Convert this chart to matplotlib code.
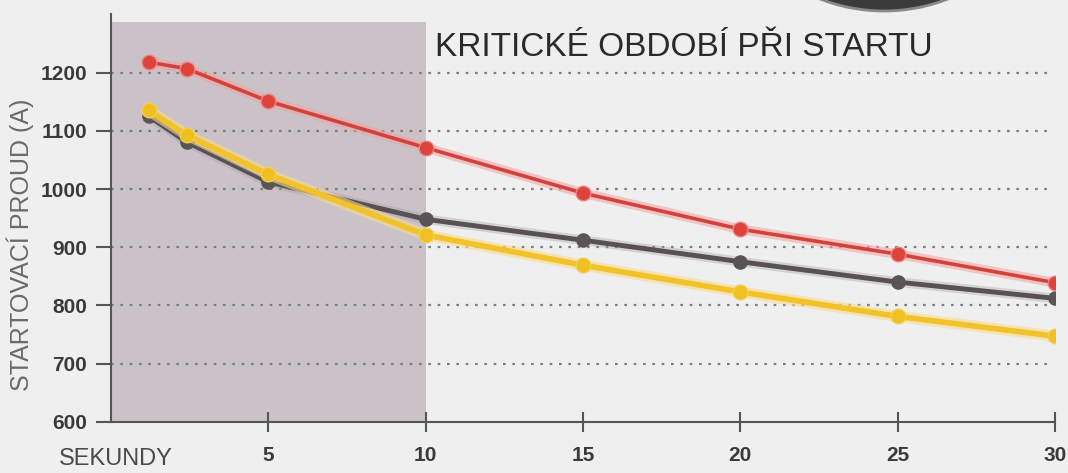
import matplotlib
matplotlib.use("Agg")
import matplotlib.pyplot as plt
from matplotlib.patches import Ellipse, Rectangle

# ---- data ----
seconds = [1.2, 2.4, 5, 10, 15, 20, 25, 30]
red_vals = [1218, 1207, 1151, 1071, 993, 931, 888, 839]
gray_vals = [1125, 1081, 1012, 948, 912, 875, 840, 812]
yellow_vals = [1135, 1093, 1025, 921, 869, 823, 781, 747]
x_ticks = [5, 10, 15, 20, 25, 30]
y_ticks = [600, 700, 800, 900, 1000, 1100, 1200]
grid_levels = [700, 800, 900, 1000, 1100, 1200]
critical_end = 10
title = "KRITICKÉ OBDOBÍ PŘI STARTU"
ylabel = "STARTOVACÍ PROUD (A)"
xlabel = "SEKUNDY"

W, H = 1068, 473
BG = "#efefef"
fig = plt.figure(figsize=(W / 100, H / 100), dpi=100, facecolor=BG)
plt.rcParams['font.family'] = ['Liberation Sans', 'DejaVu Sans']

ax_left, ax_right = 111, 1055
ax_bottom, ax_top = 421.7, 14.5
ax = fig.add_axes([ax_left / W, 1 - ax_bottom / H, (ax_right - ax_left) / W, (ax_bottom - ax_top) / H])
ax.set_facecolor(BG)
ax.set_xlim(0, 30)
ax.set_ylim(600, 1300)

# shaded critical period
ax.add_patch(Rectangle((0, 600), critical_end, 687, facecolor="#cbc2c7", edgecolor="none", zorder=0))

# dotted grid
for g in grid_levels:
    ax.plot([0, 29.85], [g, g], color="#7e7e7e", lw=1.6, dashes=(1.2, 3.0), zorder=1)

# series
ax.plot(seconds, gray_vals, color="#a09a9c", lw=7, alpha=0.35, zorder=2, solid_capstyle="round")
ax.plot(seconds, gray_vals, color="#575155", lw=3.5, marker="o", ms=9.5, mfc="#5a5457", mec="#5a5457", zorder=3)
ax.plot(seconds, yellow_vals, color="#f8dc86", lw=8, alpha=0.6, zorder=4, solid_capstyle="round")
ax.plot(seconds, yellow_vals, color="#f1c22a", lw=4, marker="o", ms=10.5, mfc="#f0c020", mec="#f3cf50", zorder=5)
ax.plot(seconds, red_vals, color="#f3a0a0", lw=7, alpha=0.55, zorder=6, solid_capstyle="round")
ax.plot(seconds, red_vals, color="#d2423b", lw=2.6, marker="o", ms=10.5, mfc="#dd433a", mec="#ee8080", zorder=7)

# spines
for s in ["top", "right"]:
    ax.spines[s].set_visible(False)
for s in ["left", "bottom"]:
    ax.spines[s].set_color("#555555")
    ax.spines[s].set_linewidth(1.5)

ax.set_yticks(y_ticks)
ax.set_yticklabels([str(v) for v in y_ticks])
ax.tick_params(axis="y", direction="out", length=10.8, width=1.5, color="#555555",
               pad=6.5, labelsize=15, labelcolor="#3a3a3a")
ax.set_xticks(x_ticks)
ax.set_xticklabels([str(v) for v in x_ticks])
ax.tick_params(axis="x", direction="inout", length=14.4, width=1.5, color="#555555",
               pad=10, labelsize=15, labelcolor="#3a3a3a")
for lab in ax.get_xticklabels() + ax.get_yticklabels():
    lab.set_fontweight("bold")

# texts
fig.text(435 / W, 1 - 56 / H, title, fontsize=24, color="#2a2a2a", va="baseline", ha="left")
fig.text(20 / W, 1 - 245 / H, ylabel, fontsize=18, color="#6a6a6a", rotation=90, va="center", ha="center")
fig.text(116 / W, 1 - 459 / H, xlabel, fontsize=17, color="#4a4a4a", va="center", ha="center")

# dark circle cut at top edge
r = 176
fig.patches.append(Ellipse((884 / W, 1 + 165 / H), 2 * r / W, 2 * r / H, transform=fig.transFigure,
                           facecolor="#3b3b3b", edgecolor="#8a8a8a", lw=2, zorder=0))

fig.savefig("out.png", dpi=100, facecolor=BG)
